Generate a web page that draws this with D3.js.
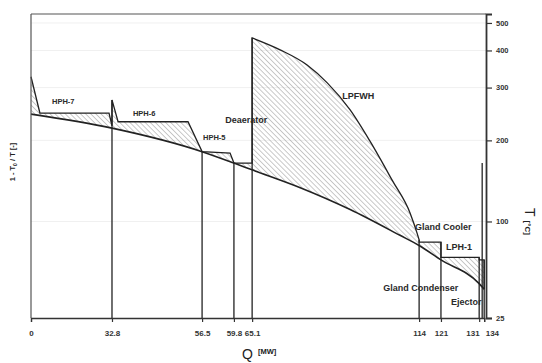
<!DOCTYPE html>
<html>
<head>
<meta charset="utf-8">
<script src="https://cdn.jsdelivr.net/npm/d3@7"></script>
<style>
  html, body { margin: 0; padding: 0; background: #fff; }
  svg { display: block; font-family: "Liberation Sans", Arial, sans-serif; }
</style>
</head>
<body>
<svg width="542" height="363"></svg>
<script>
// x ticks (heat duty, MW)
const tickQ = [0, 32.8, 56.5, 59.8, 65.1, 114, 121, 131, 134];
const tickQLabels = ["0", "32.8", "56.5", "59.8", "65.1", "114", "121", "131", "134"];
// right axis temperature ticks (deg C)
const tempTicks = [25, 100, 200, 300, 400, 500];

// hot side before the LPFWH (HPH-7, HPH-6, HPH-5, deaerator)
const hpQ = [0, 3.6, 31.6, 32.8, 32.8, 34.4, 52.8, 56.5, 59.4, 59.8, 65.1, 65.1];
const hpT = [326, 247, 247, 224, 273, 231, 231, 183, 181, 167, 167, 442];
// LPFWH condensing/desuperheating curve
const lpQ = [65.1, 73.3, 81.2, 87.1, 93.8, 99.7, 106.1, 111.4, 113.4, 114];
const lpT = [442, 402, 357, 311, 253, 198, 145, 108, 89, 83];
// gland cooler, LPH-1, gland condenser / ejector
const glQ = [114, 114, 121, 121, 131, 131, 134, 134];
const glT = [83, 81, 81, 68, 68, 66, 66, 44];

// cold side (feedwater / condensate) Q, T
const coldQ = [0, 32.8, 56.5, 59.8, 65.1, 79.2, 93.8, 108.4, 114, 121, 131, 134];
const coldT = [245, 220, 183, 167, 158, 136, 112, 87, 78, 66, 48, 44];

// vertical boundary lines: Q and temperature where they start
const dropQ = [32.8, 56.5, 59.8, 65.1, 114, 121, 131, 132.8, 134];
const dropT = [273, 183, 167, 442, 83, 81, 68, 167, 66];

// heater labels anchored in (Q, T)
const labelText = ["HPH-7", "HPH-6", "HPH-5", "Deaerator", "LPFWH", "Gland Cooler", "LPH-1", "Gland Condenser", "Ejector"];
const labelQ = [8.5, 38.3, 56.6, 58.9, 91.5, 112.8, 122.3, 103.5, 123.6];
const labelT = [265, 242, 201, 229, 275, 92, 74, 43, 33];

const T0 = 298.15; // ambient, K
const carnot = t => 1 - T0 / (t + 273.15);

const svg = d3.select('svg');
const width = +svg.attr('width');
const height = +svg.attr('height');
const margin = { top: 14, right: 56, bottom: 45, left: 31 };
const innerWidth = width - margin.left - margin.right;
const innerHeight = height - margin.top - margin.bottom;

// the original axis is not uniform: ticks sit at these fractions of the width
const tickFrac = [0, 0.178, 0.376, 0.446, 0.486, 0.853, 0.901, 0.985, 0.996];
const xScale = d3.scaleLinear()
  .domain(tickQ)
  .range(tickFrac.map(f => f * innerWidth));

const yScale = d3.scaleLinear()
  .domain([0, 0.633])
  .range([innerHeight, 0]);

const px = q => xScale(q);
const py = t => yScale(carnot(t));

const defs = svg.append('defs');
defs.append('pattern')
  .attr('id', 'hatch')
  .attr('patternUnits', 'userSpaceOnUse')
  .attr('width', 3.6).attr('height', 3.6)
  .attr('patternTransform', 'rotate(-45)')
  .append('line')
  .attr('x1', 0).attr('y1', 0).attr('x2', 0).attr('y2', 3.6)
  .attr('stroke', '#7a7a7a').attr('stroke-width', 0.8);

const g = svg.append('g').attr('transform', `translate(${margin.left},${margin.top})`);

// faint grid
g.selectAll('.grid').data(tempTicks.slice(1)).enter().append('line')
  .attr('x1', 0).attr('x2', innerWidth)
  .attr('y1', d => py(d)).attr('y2', d => py(d))
  .attr('stroke', '#f0f0f0').attr('stroke-width', 1);

const zip = (a, b) => a.map((q, i) => [q, b[i]]);
const hp = zip(hpQ, hpT), lp = zip(lpQ, lpT), gl = zip(glQ, glT);
const cold = zip(coldQ, coldT);

const line = d3.line().x(d => px(d[0])).y(d => py(d[1]));
const curve = d3.line().x(d => px(d[0])).y(d => py(d[1])).curve(d3.curveMonotoneX);
const cont = s => s.replace(/^M/, 'L');

const hotPath = line(hp) + cont(curve(lp)) + cont(line(gl));

// hatched area between the two composite lines
g.append('path')
  .attr('d', hotPath + cont(curve(cold.slice().reverse())) + 'Z')
  .attr('fill', 'url(#hatch)')
  .attr('stroke', 'none');

// vertical heater boundaries
g.selectAll('.drop').data(dropQ).enter().append('line')
  .attr('x1', d => px(d)).attr('x2', d => px(d))
  .attr('y1', (d, i) => py(dropT[i])).attr('y2', innerHeight)
  .attr('stroke', '#222').attr('stroke-width', 1.3);

g.append('path').attr('d', hotPath)
  .attr('fill', 'none').attr('stroke', '#222').attr('stroke-width', 1.3);
g.append('path').attr('d', curve(cold))
  .attr('fill', 'none').attr('stroke', '#222').attr('stroke-width', 1.6);

// frame
g.append('line').attr('x1', 0).attr('x2', innerWidth).attr('y1', 0).attr('y2', 0)
  .attr('stroke', '#555').attr('stroke-width', 1.2);
g.append('line').attr('x1', 0).attr('x2', 0).attr('y1', 0).attr('y2', innerHeight)
  .attr('stroke', '#555').attr('stroke-width', 1.2);

// x axis
const xAxis = d3.axisBottom(xScale)
  .tickValues(tickQ)
  .tickFormat((d, i) => tickQLabels[i])
  .tickSize(4).tickPadding(8);
const xg = g.append('g').attr('transform', `translate(0,${innerHeight})`).call(xAxis);
xg.select('.domain').attr('stroke', '#333').attr('stroke-width', 1.3);
xg.selectAll('.tick line').attr('stroke', '#333').attr('stroke-width', 1.2);
xg.selectAll('text').attr('font-size', 8).attr('font-weight', 'bold').attr('fill', '#333');
// the two crowded labels at the right end are pushed apart
xg.selectAll('text')
  .filter(d => d === 131).attr('text-anchor', 'end').attr('dx', 0);
xg.selectAll('text')
  .filter(d => d === 134).attr('text-anchor', 'start').attr('dx', 1);

// right axis (temperature on a Carnot-factor scale)
const yAxis = d3.axisRight(yScale)
  .tickValues(tempTicks.map(carnot))
  .tickFormat((d, i) => tempTicks[i])
  .tickSize(6).tickPadding(4);
const yg = g.append('g').attr('transform', `translate(${innerWidth},0)`).call(yAxis);
yg.select('.domain').attr('stroke', '#333').attr('stroke-width', 1.8);
yg.selectAll('.tick line').attr('stroke', '#333').attr('stroke-width', 1.2);
yg.selectAll('text').attr('font-size', 7.5).attr('font-weight', 'bold').attr('fill', '#333');

// heater labels
g.selectAll('.lbl').data(labelText).enter().append('text')
  .attr('x', (d, i) => px(labelQ[i]))
  .attr('y', (d, i) => py(labelT[i]))
  .attr('font-size', (d, i) => i >= 3 ? 9 : 7.5)
  .attr('font-weight', 'bold')
  .attr('fill', '#2a2a2a')
  .text(d => d);

// axis titles
const qt = svg.append('text').attr('x', 242).attr('y', 359).attr('fill', '#222');
qt.append('tspan').attr('font-size', 14).text('Q');
qt.append('tspan').attr('font-size', 7.5).attr('font-weight', 'bold').attr('dx', 5).attr('dy', -5).text('[MW]');

const lt = svg.append('text')
  .attr('transform', 'translate(15,162) rotate(-90)')
  .attr('text-anchor', 'middle')
  .attr('font-size', 7.5).attr('font-weight', 'bold').attr('fill', '#222');
lt.append('tspan').text('1 - T');
lt.append('tspan').attr('font-size', 5).attr('dy', 2).text('0');
lt.append('tspan').attr('dy', -2).text(' / T [-]');

const rt = svg.append('text')
  .attr('transform', 'translate(525,208) rotate(90)')
  .attr('fill', '#222');
rt.append('tspan').attr('font-size', 14).text('T');
rt.append('tspan').attr('font-size', 8).attr('font-weight', 'bold').attr('dx', 4).text('[°C]');
</script>
</body>
</html>
